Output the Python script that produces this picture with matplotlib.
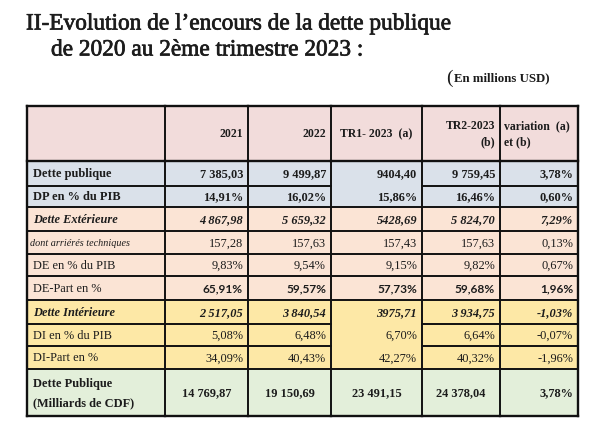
import matplotlib.pyplot as plt
import matplotlib.patheffects as pe
from matplotlib.patches import Rectangle

# table content
columns = ['2021', '2022', 'TR1- 2023  (a)', 'TR2-2023\n(b)', 'variation  (a)\net (b)']
row_labels = ['Dette publique', 'DP en % du PIB', 'Dette Extérieure', 'dont arriérés techniques',
              'DE en % du PIB', 'DE-Part en %', 'Dette Intérieure', 'DI en % du PIB',
              'DI-Part en %', 'Dette Publique\n(Milliards de CDF)']
v2021 = ['7 385,03', '14,91%', '4 867,98', '157,28', '9,83%', '65,91%', '2 517,05', '5,08%', '34,09%', '14 769,87']
v2022 = ['9 499,87', '16,02%', '5 659,32', '157,63', '9,54%', '59,57%', '3 840,54', '6,48%', '40,43%', '19 150,69']
vtr1 = ['9404,40', '15,86%', '5428,69', '157,43', '9,15%', '57,73%', '3975,71', '6,70%', '42,27%', '23 491,15']
vtr2 = ['9 759,45', '16,46%', '5 824,70', '157,63', '9,82%', '59,68%', '3 934,75', '6,64%', '40,32%', '24 378,04']
vvar = ['3,78%', '0,60%', '7,29%', '0,13%', '0,67%', '1,96%', '-1,03%', '-0,07%', '-1,96%', '3,78%']

# layout (pixels)
col_edges = [27, 165, 248, 331, 422, 500, 578]
row_edges = [107, 162, 187, 208, 232, 255, 277, 301, 325, 347, 370, 417]

pink = '#f2dcdb'
blue = '#dae1ea'
peach = '#fbe4d5'
yellow = '#fde8a6'
green = '#e3efda'
row_colors = [blue, blue, peach, peach, peach, peach, yellow, yellow, yellow, green]

serif = 'Liberation Serif'
sans = 'Lato'
# (family, weight, style) per row
label_fmt = [(serif, 'bold', 'normal'), (serif, 'bold', 'normal'), (serif, 'bold', 'italic'),
             (serif, 'normal', 'italic'), (serif, 'normal', 'normal'), (serif, 'normal', 'normal'),
             (serif, 'bold', 'italic'), (serif, 'normal', 'normal'), (serif, 'normal', 'normal'),
             (serif, 'bold', 'normal')]
value_fmt = [(serif, 'bold', 'normal'), (serif, 'bold', 'normal'), (serif, 'bold', 'italic'),
             (serif, 'normal', 'normal'), (serif, 'normal', 'normal'), (sans, 'bold', 'normal'),
             (serif, 'bold', 'italic'), (serif, 'normal', 'normal'), (serif, 'normal', 'normal'),
             (serif, 'bold', 'normal')]

fig = plt.figure(figsize=(6.09, 4.31), dpi=100)
ax = fig.add_axes([0, 0, 1, 1])
ax.set_xlim(0, 609)
ax.set_ylim(431, 0)
ax.axis('off')

ink = '#1c1c1c'

# title (slightly heavier than regular weight)
semi = [pe.withStroke(linewidth=0.5, foreground=ink)]
ax.text(26, 25, 'II-Evolution de l\u2019encours de la dette publique', fontsize=16.8,
        family=serif, va='center', ha='left', color=ink, path_effects=semi)
ax.text(51, 51, 'de 2020 au 2ème trimestre 2023 :', fontsize=16.8,
        family=serif, va='center', ha='left', color=ink, path_effects=semi)
ax.text(446, 78, '(', fontsize=14, family=serif, va='center', ha='left', color=ink)
ax.text(454, 78, 'En millions USD)', fontsize=9.3, family=serif, weight='bold',
        va='center', ha='left', color=ink)

# cell backgrounds
ax.add_patch(Rectangle((col_edges[0], row_edges[0]), col_edges[-1] - col_edges[0],
                       row_edges[1] - row_edges[0], facecolor=pink, edgecolor='none'))
for i, c in enumerate(row_colors):
    ax.add_patch(Rectangle((col_edges[0], row_edges[i + 1]), col_edges[-1] - col_edges[0],
                           row_edges[i + 2] - row_edges[i + 1], facecolor=c, edgecolor='none'))

# grid lines; TR1 column has a few merged-looking cells
skip = {(3, 2), (3, 8), (3, 9)}
for r, y in enumerate(row_edges):
    for c in range(len(col_edges) - 1):
        if (c, r) in skip:
            continue
        lw = 1.7 if r in (0, 1, len(row_edges) - 1) else 1.4
        ax.plot([col_edges[c], col_edges[c + 1]], [y, y], color='#111111', lw=lw,
                solid_capstyle='projecting')
for c, x in enumerate(col_edges):
    lw = 1.7 if c in (0, len(col_edges) - 1) else 1.4
    ax.plot([x, x], [row_edges[0], row_edges[-1]], color='#111111', lw=lw)

# header
hfs = 8.5
hy = (row_edges[0] + row_edges[1]) / 2
ax.text(col_edges[2] - 5, hy, columns[0], ha='right', va='center', fontsize=hfs,
        family=serif, weight='bold', color=ink)
ax.text(col_edges[3] - 5, hy, columns[1], ha='right', va='center', fontsize=hfs,
        family=serif, weight='bold', color=ink)
ax.text((col_edges[3] + col_edges[4]) / 2, hy, columns[2], ha='center', va='center',
        fontsize=hfs, family=serif, weight='bold', color=ink)
ax.text(col_edges[5] - 5, hy, columns[3], ha='right', va='center', fontsize=hfs,
        family=serif, weight='bold', color=ink, multialignment='right', linespacing=1.5)
ax.text(col_edges[5] + 4, hy, columns[4], ha='left', va='center', fontsize=hfs,
        family=serif, weight='bold', color=ink, linespacing=1.5)

# body
fs = 8.9
cols = [v2021, v2022, vtr1, vtr2, vvar]
for i, lab in enumerate(row_labels):
    y = (row_edges[i + 1] + row_edges[i + 2]) / 2
    fam, wt, st = label_fmt[i]
    lfs = 7.3 if i == 3 else fs
    lx = col_edges[0] + (3 if i == 3 else 6)
    ax.text(lx, y, lab, ha='left', va='center', fontsize=lfs, family=fam,
            weight=wt, style=st, color=ink, linespacing=1.8)
    fam, wt, st = value_fmt[i]
    vfs = 8.6 if fam == sans else fs
    for j, vals in enumerate(cols):
        last = i == len(row_labels) - 1
        if last and j < 4:
            x, ha = (col_edges[j + 1] + col_edges[j + 2]) / 2, 'center'
        else:
            x, ha = col_edges[j + 2] - 5, 'right'
        ax.text(x, y, vals[i], ha=ha, va='center', fontsize=vfs, family=fam,
                weight=wt, style=st, color=ink)

fig.savefig('out.png', dpi=100, facecolor='white')
